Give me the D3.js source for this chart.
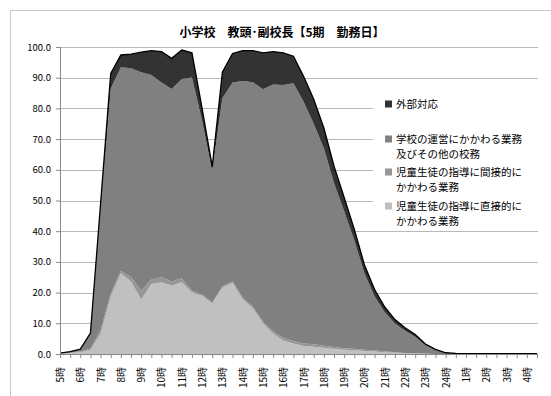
<!DOCTYPE html>
<html lang="ja">
<head>
    <meta charset="UTF-8">
    <title>小学校 教頭・副校長</title>
    <style>
        body { margin: 0; background: #fff; }
        text { font-family: "Noto Sans CJK JP", "Noto Sans", sans-serif; fill: #000; }
    </style>
</head>
<body>
<script src="https://d3js.org/d3.v7.min.js"></script>
<script>
    // 30分刻みの時間帯（5:00 〜 翌4:30）
    let slots = ["5:00", "5:30", "6:00", "6:30", "7:00", "7:30", "8:00", "8:30", "9:00", "9:30",
        "10:00", "10:30", "11:00", "11:30", "12:00", "12:30", "13:00", "13:30", "14:00", "14:30",
        "15:00", "15:30", "16:00", "16:30", "17:00", "17:30", "18:00", "18:30", "19:00", "19:30",
        "20:00", "20:30", "21:00", "21:30", "22:00", "22:30", "23:00", "23:30", "24:00", "0:30",
        "1:00", "1:30", "2:00", "2:30", "3:00", "3:30", "4:00", "4:30"];
    let hourLabels = ["5時", "6時", "7時", "8時", "9時", "10時", "11時", "12時", "13時", "14時", "15時", "16時",
        "17時", "18時", "19時", "20時", "21時", "22時", "23時", "24時", "1時", "2時", "3時", "4時"];
    let yTicks = [0, 10, 20, 30, 40, 50, 60, 70, 80, 90, 100];

    // 各業務の割合（%）
    let direct = [0.1, 0.3, 0.6, 1.3, 6.7, 18.7, 26.3, 23.6, 17.8, 22.8,
        23.4, 22.3, 23.4, 20.1, 19.0, 16.5, 21.7, 23.2, 17.8, 14.9,
        10.0, 6.7, 4.4, 3.4, 2.6, 2.4, 2.0, 1.7, 1.4, 1.2,
        1.0, 0.8, 0.6, 0.4, 0.25, 0.15, 0.1, 0, 0, 0,
        0, 0, 0, 0, 0, 0, 0, 0];
    let indirect = [0.05, 0.1, 0.2, 0.5, 1.0, 1.0, 0.8, 1.5, 2.8, 1.5,
        1.6, 1.3, 1.3, 0.5, 0.4, 0.3, 0.4, 0.5, 0.5, 0.6,
        0.6, 0.6, 0.8, 0.8, 0.8, 0.8, 0.7, 0.6, 0.5, 0.5,
        0.4, 0.3, 0.3, 0.2, 0.1, 0.1, 0.05, 0, 0, 0,
        0, 0, 0, 0, 0, 0, 0, 0];
    let management = [0.1, 0.3, 0.7, 4.7, 39.3, 66.8, 66.3, 68.0, 71.2, 66.6,
        63.4, 62.7, 64.9, 69.5, 56.6, 42.7, 61.2, 64.7, 70.6, 73.0,
        75.6, 80.5, 82.4, 84.0, 78.8, 71.8, 64.3, 53.4, 44.6, 35.3,
        24.8, 17.6, 12.7, 9.3, 7.2, 5.4, 2.7, 1.3, 0.3, 0.15,
        0.1, 0.1, 0.1, 0.1, 0.1, 0.1, 0.1, 0.1];
    let external = [0.05, 0.1, 0.1, 0.3, 2.0, 4.9, 4.0, 4.6, 6.5, 7.9,
        10.1, 10.0, 9.4, 8.0, 4.0, 1.5, 8.5, 9.5, 9.9, 10.3,
        11.9, 10.7, 10.5, 8.8, 8.3, 8.0, 6.6, 5.5, 4.5, 3.6,
        2.8, 2.3, 1.7, 1.3, 1.0, 0.7, 0.4, 0.2, 0.1, 0.05,
        0, 0, 0, 0, 0, 0, 0, 0];

    let keys = ["direct", "indirect", "management", "external"];
    let colors = {direct: "#c0c0c0", indirect: "#969696", management: "#808080", external: "#333333"};
    let legendNames = {
        external: ["外部対応"],
        management: ["学校の運営にかかわる業務", "及びその他の校務"],
        indirect: ["児童生徒の指導に間接的に", "かかわる業務"],
        direct: ["児童生徒の指導に直接的に", "かかわる業務"]
    };

    let w = 551, h = 396;
    let margin = {left: 60, right: 14, top: 47, bottom: 42};

    let rows = slots.map(function (s, i) {
        return {slot: s, direct: direct[i], indirect: indirect[i], management: management[i], external: external[i]};
    });
    let series = d3.stack().keys(keys)(rows);

    let x = d3.scalePoint()
        .domain(slots)
        .range([margin.left, w - margin.right]);
    let y = d3.scaleLinear()
        .domain([0, 100])
        .range([h - margin.bottom, margin.top]);

    let svg = d3.select("body")
        .append("svg")
        .attr("width", w)
        .attr("height", h);

    // 外枠
    svg.append("path")
        .attr("d", "M10.5," + h + "V10.5H" + w)
        .attr("fill", "none")
        .attr("stroke", "#c8c8c8");

    // タイトル
    svg.append("text")
        .attr("x", 282)
        .attr("y", 37)
        .attr("text-anchor", "middle")
        .style("font-size", "12px")
        .style("font-weight", "bold")
        .text("小学校　教頭･副校長【5期　勤務日】");

    // 目盛線
    svg.append("g")
        .selectAll("line")
        .data(yTicks.slice(1))
        .enter()
        .append("line")
        .attr("x1", margin.left)
        .attr("x2", w - margin.right + 1)
        .attr("y1", function (d) { return Math.round(y(d)) + 0.5; })
        .attr("y2", function (d) { return Math.round(y(d)) + 0.5; })
        .attr("stroke", "#b8b8b8")
        .attr("stroke-width", 1.2);

    // 積み上げ面
    let area = d3.area()
        .x(function (d) { return x(d.data.slot); })
        .y0(function (d) { return y(d[0]); })
        .y1(function (d) { return y(d[1]); });

    svg.append("g")
        .selectAll("path")
        .data(series)
        .enter()
        .append("path")
        .attr("d", area)
        .attr("fill", function (d) { return colors[d.key]; });

    // 合計の外周線
    let topLine = d3.line()
        .x(function (d) { return x(d.data.slot); })
        .y(function (d) { return y(d[1]); });
    svg.append("path")
        .datum(series[series.length - 1])
        .attr("d", topLine)
        .attr("fill", "none")
        .attr("stroke", "#000")
        .attr("stroke-width", 1.3);

    // 軸
    let xAxis = svg.append("g")
        .attr("transform", "translate(0," + (h - margin.bottom) + ")")
        .call(d3.axisBottom(x)
            .tickSizeOuter(0)
            .tickSize(4)
            .tickFormat(function (d, i) { return i % 2 === 0 ? hourLabels[i / 2] : ""; }));
    xAxis.select(".domain").attr("stroke", "#888");
    xAxis.selectAll(".tick line").attr("stroke", "#888");
    xAxis.selectAll(".tick text")
        .attr("transform", "translate(0,13) rotate(-90)")
        .attr("x", 0)
        .attr("y", 0)
        .attr("dy", "0.35em")
        .attr("text-anchor", "end")
        .style("font-size", "10px")
        .style("font-family", "\"Noto Sans CJK JP\", sans-serif");

    let yAxis = svg.append("g")
        .attr("transform", "translate(" + margin.left + ",0)")
        .call(d3.axisLeft(y)
            .tickValues(yTicks)
            .tickSizeOuter(0)
            .tickSize(4)
            .tickFormat(d3.format(".1f")));
    yAxis.select(".domain").attr("stroke", "#888");
    yAxis.selectAll(".tick line").attr("stroke", "#888");
    yAxis.selectAll(".tick text")
        .attr("x", -9)
        .style("font-size", "9.5px")
        .style("font-family", "\"Noto Sans CJK JP\", sans-serif");

    // 凡例
    let legend = svg.append("g");
    legend.append("rect")
        .attr("x", 373)
        .attr("y", 88)
        .attr("width", 168)
        .attr("height", 139)
        .attr("fill", "#fff");

    let legendY = {external: 104, management: 139, indirect: 172, direct: 206};
    let legendKeys = ["external", "management", "indirect", "direct"];
    legendKeys.forEach(function (k) {
        legend.append("rect")
            .attr("x", 385)
            .attr("y", legendY[k] - 3.5)
            .attr("width", 7)
            .attr("height", 7)
            .attr("fill", colors[k]);
        legendNames[k].forEach(function (t, j) {
            legend.append("text")
                .attr("x", 396)
                .attr("y", legendY[k] + j * 15.3)
                .attr("dy", "0.35em")
                .style("font-size", "10.5px")
                .text(t);
        });
    });
</script>
</body>
</html>
